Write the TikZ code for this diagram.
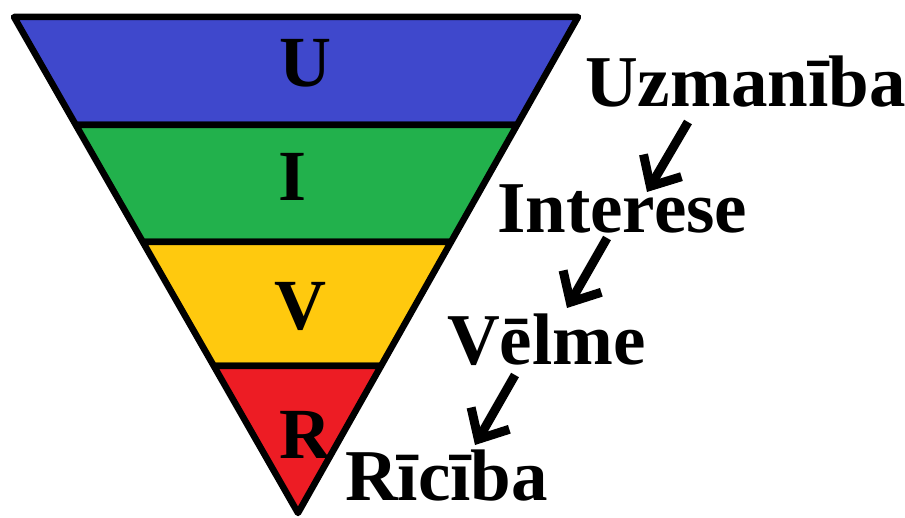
\documentclass[tikz,border=0pt]{standalone}
\usepackage{fontspec}
\setmainfont{Liberation Serif}
\usetikzlibrary{calc,arrows.meta}

\definecolor{funnelblue}{RGB}{63,72,204}
\definecolor{funnelgreen}{RGB}{34,177,76}
\definecolor{funnelyellow}{RGB}{255,201,14}
\definecolor{funnelred}{RGB}{237,28,36}

\begin{document}
\begin{tikzpicture}[
  x=1pt, y=-1pt,
  band/.style={
    fill=#1,
    draw=black,
    line width=6.5pt,
    line join=round
  },
  letter/.style={
    anchor=base,
    inner sep=0pt,
    font=\fontsize{72}{76}\selectfont\bfseries
  },
  stage/.style={
    anchor=base west,
    inner sep=0pt,
    font=\fontsize{73}{76}\selectfont\bfseries
  },
  flow/.style={
    line width=9pt,
    -{Straight Barb[length=24pt,width=44pt]}
  }
]
\useasboundingbox (0,0) rectangle (905,518);

\coordinate (TL) at (14,17);
\coordinate (TR) at (578,17);
\coordinate (A) at (298,513);

\foreach \col/\ta/\tb in {funnelblue/0/0.2177, funnelgreen/0.2177/0.4536,
                          funnelyellow/0.4536/0.7036, funnelred/0.7036/1} {
  \draw[band=\col] ($(TL)!\ta!(A)$) -- ($(TR)!\ta!(A)$)
    -- ($(TR)!\tb!(A)$) -- ($(TL)!\tb!(A)$) -- cycle;
}

\node[letter] (U) at (305,87) {U};
\node[letter] (I) at (293,201) {I};
\node[letter] (V) at (300,330) {V};
\node[letter] (R) at (305,458) {R};

\node[stage] (uzm) at (585,107) {Uzmanība};
\node[stage] (int) at (497,233) {Interese};
\node[stage] (vel) at (447,365) {Vēlme};
\node[stage] (ric) at (345,500) {Rīcība};

\coordinate (uzm-out) at (688,122);
\coordinate (int-in) at (647,192);
\coordinate (int-out) at (607,238);
\coordinate (vel-in) at (567,308);
\coordinate (vel-out) at (515,375);
\coordinate (ric-in) at (475,445);

\draw[flow] (uzm-out) -- (int-in);
\draw[flow] (int-out) -- (vel-in);
\draw[flow] (vel-out) -- (ric-in);
\end{tikzpicture}
\end{document}
